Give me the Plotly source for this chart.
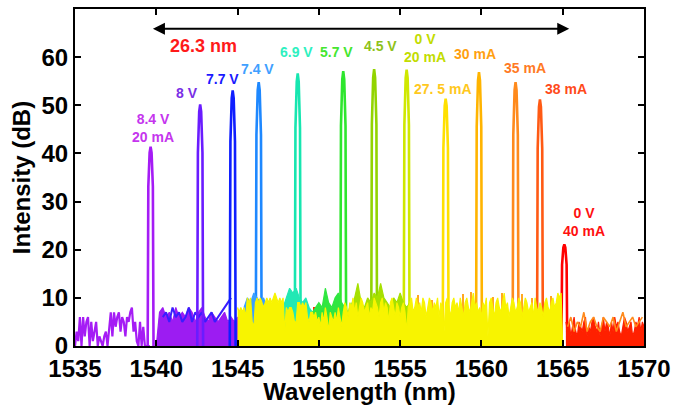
import numpy as np
import plotly.graph_objects as go

# ---------------- data ----------------
peak_wl = [1539.65, 1542.7, 1544.7, 1546.3, 1548.7, 1551.5, 1553.4, 1555.4,
           1557.8, 1559.85, 1562.1, 1563.6, 1565.1]
peak_db = [41.4, 50.2, 53.1, 54.8, 56.6, 57.1, 57.5, 57.4, 51.4, 56.9, 54.8, 51.2, 21.1]
peak_colors = ["#a51cf5", "#6a1cff", "#0f1eff", "#1e88ff", "#17e6b0", "#2ee62e",
               "#92d400", "#cfe800", "#ffe000", "#ffb400", "#ff8a1c", "#ff5a14", "#ff0000"]

label_text = ["8.4 V<br>20 mA", "8 V", "7.7 V", "7.4 V", "6.9 V", "5.7 V", "4.5 V",
              "0 V<br>20 mA", "27. 5 mA", "30 mA", "35 mA", "38 mA", "0 V<br>40 mA"]
label_wl = [1539.8, 1541.9, 1544.05, 1546.25, 1548.6, 1551.1, 1553.8,
            1556.5, 1557.65, 1559.6, 1562.7, 1565.2, 1566.3]
label_db = [45.3, 52.5, 55.4, 57.6, 61.0, 61.0, 62.4, 61.8, 53.4, 60.6, 57.7, 53.4, 25.8]
label_colors = ["#c535ee", "#7a2fe6", "#1a1aff", "#3fa0ff", "#2ef0c0", "#44e630",
                "#8ec21a", "#c2dc00", "#ffc820", "#ffa010", "#ff7a24", "#ff4a1a", "#ff1010"]

span_text = "26.3 nm"
span_start, span_end, span_db = 1539.7, 1565.4, 65.9

# purple sparse noise 1535.0 - 1539.6, step 0.1
purple_sparse_start = 1535.0
purple_sparse = [0, 3, 1, 6, 0, 6, 2, 5, 6, 0,
                 5, 1, 3, 5, 0, 2, 1, 0, 2, 3,
                 0, 3, 7, 2, 7, 4, 6, 7, 3, 6,
                 5, 2, 6, 5, 7, 8, 3, 5, 1, 0,
                 5, 0, 4, 0, 0, 0, 0]
# purple dense noise 1540.0 - 1545.2, step 0.2
purple_dense_start = 1540.0
purple_dense = [0, 7, 8, 6, 7, 5, 8, 6, 7, 6, 8, 7, 5, 7, 8, 6, 5, 7, 6, 5,
                6, 7, 5, 6, 5, 6, 3]
# blue / violet noise 1540.4 - 1544.6, step 0.2
blue_start = 1540.4
blue_noise = [6, 7, 5, 8, 6, 7, 5, 6, 8, 5, 7, 6, 7, 5, 6, 7, 5, 6, 7, 8, 9, 10]
# light-blue base 1545.4 - 1547.0, step 0.2
lblue_start = 1545.4
lblue_noise = [8, 10, 9, 11, 10, 9, 10, 8, 9]
# cyan base 1547.6 - 1549.6, step 0.2
cyan_start = 1547.6
cyan_noise = [6, 8, 10, 12, 11, 12, 10, 9, 10, 8, 7]
# green base 1549.6 - 1552.0, step 0.2
green_start = 1549.6
green_noise = [7, 8, 9, 8, 12, 9, 8, 10, 11, 9, 8, 7, 9]
# yellow-green base 1552.0 - 1555.6, step 0.2
ygreen_start = 1552.0
ygreen_noise = [8, 10, 13, 9, 8, 10, 9, 11, 10, 13, 10, 9, 8, 10, 9, 11, 9, 8, 9]
# yellow floor 1545.0 - 1565.0, step 0.1
yellow_start = 1545.0
yellow_noise = [8, 7, 8, 7, 8, 6, 10, 9, 10, 5,
                4, 9, 10, 9, 10, 9, 8, 9, 10, 9,
                10, 9, 10, 11, 10, 9, 10, 9, 10, 3,
                8, 7, 8, 8, 7, 5, 5, 9, 9, 8,
                9, 8, 9, 6, 5, 7, 7, 6, 7, 5,
                6, 4, 7, 5, 8, 6, 3, 7, 6, 5,
                7, 5, 8, 6, 4, 7, 9, 8, 6, 9,
                8, 10, 7, 9, 6, 8, 10, 9, 7, 8,
                9, 6, 8, 7, 10, 9, 8, 6, 9, 10,
                7, 9, 8, 5, 9, 10, 8, 6, 9, 8,
                6, 8, 9, 7, 3, 8, 9, 10, 7, 8,
                10, 8, 9, 7, 10, 9, 6, 8, 10, 9,
                7, 9, 8, 10, 6, 9, 8, 3, 9, 10,
                8, 6, 9, 10, 8, 9, 7, 10, 8, 6,
                9, 10, 8, 7, 9, 11, 8, 9, 7, 8,
                6, 9, 8, 10, 2, 9, 10, 8, 6, 9,
                10, 8, 7, 9, 11, 8, 9, 6, 8, 10,
                9, 7, 8, 10, 9, 6, 8, 10, 9, 7,
                8, 9, 6, 10, 8, 7, 9, 8, 6, 9,
                10, 8, 7, 9, 10, 8, 9, 11, 10, 11,
                0]
# orange spikes over the yellow floor
orange_spike_wl = [1556.1, 1557.0, 1558.9, 1559.4, 1560.7, 1561.3, 1562.5, 1563.1, 1564.3]
orange_spike_db = [10.5, 9.5, 10.8, 11.2, 10.2, 11.0, 10.8, 10.0, 10.4]
# red spikes inside the yellow floor
red_spike_wl = [1549.3, 1549.7, 1550.6, 1551.2, 1552.7, 1554.2, 1555.6, 1557.2,
                1558.5, 1560.3, 1561.6, 1562.9, 1564.1]
red_spike_db = [6, 8, 5, 7, 6, 7, 8, 5, 7, 6, 8, 7, 6]
# purple traces visible inside the yellow floor
violet_spike_wl = [1545.9, 1546.6, 1547.9, 1548.3, 1548.8]
violet_spike_db = [4, 6, 3, 5, 4]
# red tail 1565.2 - 1570.0, step 0.1
red_start = 1565.2
red_noise = [5, 3, 5, 2, 4, 6, 3, 2, 5, 4, 3, 5, 6, 2, 4, 3, 5, 6, 4, 3,
             5, 2, 4, 6, 3, 5, 4, 2, 5, 3, 6, 4, 5, 3, 2, 4, 6, 5, 3, 4,
             5, 2, 3, 5, 4, 6, 3, 5, 4]
# orange tail 1565.3 - 1570.0, step 0.2
orange_start = 1565.3
orange_noise = [4, 6, 3, 5, 4, 7, 3, 5, 6, 4, 3, 6, 5, 4, 6, 3, 5, 7, 4, 5, 6, 4, 5, 6]

xticks = [1535, 1540, 1545, 1550, 1555, 1560, 1565, 1570]
yticks = [0, 10, 20, 30, 40, 50, 60]
x_range = [1535, 1570]
y_range = [0, 70]

FONT = "Liberation Sans, Arial, sans-serif"


def grid(start, step, n):
    return start + step * np.arange(n)


def filled(start, step, vals, color):
    return go.Scatter(x=grid(start, step, len(vals)), y=vals, mode="lines",
                      line=dict(color=color, width=1.2), fill="tozeroy",
                      fillcolor=color, hoverinfo="skip")


fig = go.Figure()

fig.add_trace(go.Scatter(x=grid(purple_sparse_start, 0.1, len(purple_sparse)), y=purple_sparse,
                         mode="lines", line=dict(color="#a51cf5", width=2.2), hoverinfo="skip"))
fig.add_trace(filled(purple_dense_start, 0.2, purple_dense, "#9c1cf2"))
fig.add_trace(go.Scatter(x=grid(blue_start, 0.2, len(blue_noise)), y=blue_noise,
                         mode="lines", line=dict(color="#3a1cff", width=2), hoverinfo="skip"))

# peaks (narrow line profile around each centre)
prof_dx = np.array([-0.18, -0.14, -0.06, 0.0, 0.06, 0.14, 0.18])
prof_fy = np.array([0.0, 0.8, 0.97, 1.0, 0.97, 0.8, 0.0])
for wl, db, c in zip(peak_wl, peak_db, peak_colors):
    fig.add_trace(go.Scatter(x=wl + prof_dx, y=db * prof_fy, mode="lines",
                             line=dict(color=c, width=2.6), hoverinfo="skip"))

fig.add_trace(filled(lblue_start, 0.2, lblue_noise, "#3aa0ff"))
fig.add_trace(filled(cyan_start, 0.2, cyan_noise, "#22e8b4"))
fig.add_trace(filled(green_start, 0.2, green_noise, "#30e640"))
fig.add_trace(filled(ygreen_start, 0.2, ygreen_noise, "#a6e000"))
fig.add_trace(go.Bar(x=orange_spike_wl, y=orange_spike_db, width=0.1,
                     marker=dict(color="#ffa820", line=dict(width=0)), hoverinfo="skip"))
fig.add_trace(filled(yellow_start, 0.1, yellow_noise, "#f8f400"))
fig.add_trace(go.Bar(x=red_spike_wl, y=red_spike_db, width=0.12,
                     marker=dict(color="#ff2a00", line=dict(width=0)), hoverinfo="skip"))
fig.add_trace(go.Bar(x=violet_spike_wl, y=violet_spike_db, width=0.1,
                     marker=dict(color="#a040e0", line=dict(width=0)), hoverinfo="skip"))
fig.add_trace(filled(red_start, 0.1, red_noise, "#ff2000"))
fig.add_trace(go.Scatter(x=grid(orange_start, 0.2, len(orange_noise)), y=orange_noise,
                         mode="lines", line=dict(color="#ff8a1c", width=1.6), hoverinfo="skip"))

for t, x, y, c in zip(label_text, label_wl, label_db, label_colors):
    fig.add_annotation(x=x, y=y, text=t, showarrow=False, xanchor="center", yanchor="middle",
                       font=dict(family=FONT, size=14, color=c, weight="bold"))

fig.add_annotation(x=1542.9, y=62.4, text=span_text, showarrow=False,
                   font=dict(family=FONT, size=18, color="#ff1a1a", weight="bold"))
fig.add_annotation(x=span_end, y=span_db, ax=span_start, ay=span_db, axref="x", ayref="y",
                   xref="x", yref="y", text="", showarrow=True, arrowhead=2, startarrowhead=2,
                   arrowside="end+start", arrowsize=1.2, arrowwidth=2, arrowcolor="black")

tickfont = dict(family=FONT, size=24, color="black", weight="bold")
titlefont = dict(family=FONT, size=24, color="black", weight="bold")
axis_common = dict(showline=True, linewidth=2, linecolor="black", mirror="ticks",
                   ticks="inside", ticklen=6, tickwidth=2, tickcolor="black",
                   showgrid=False, zeroline=False, tickfont=tickfont, automargin=False)
fig.update_xaxes(range=x_range, tickvals=xticks,
                 title=dict(text="Wavelength (nm)", standoff=0, font=titlefont), **axis_common)
fig.update_yaxes(range=y_range, tickvals=yticks,
                 title=dict(text="Intensity (dB)", standoff=4, font=titlefont), **axis_common)

fig.update_layout(width=673, height=405, margin=dict(l=75, r=29, t=9, b=59, autoexpand=False),
                  plot_bgcolor="white", paper_bgcolor="white", showlegend=False,
                  barmode="overlay", bargap=0)

fig.write_html("out.html")
